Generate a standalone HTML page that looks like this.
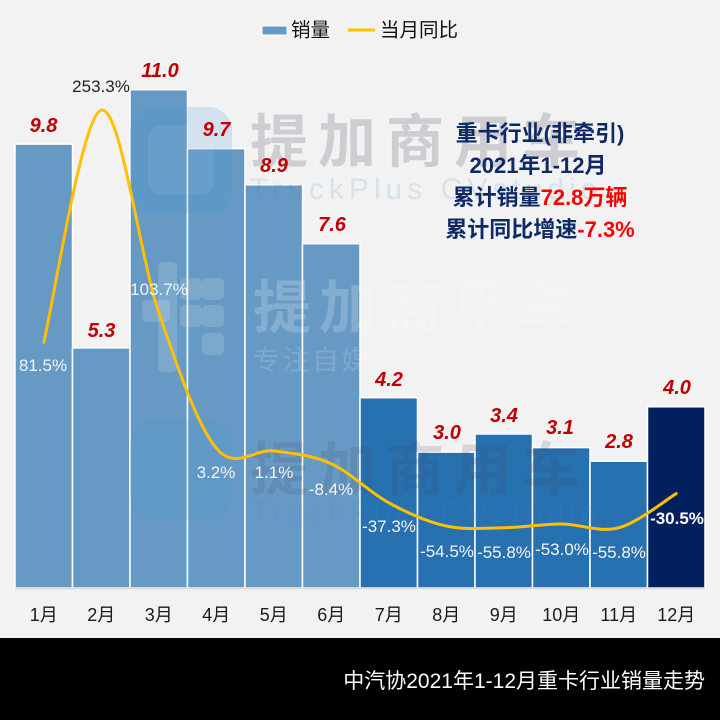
<!DOCTYPE html>
<html><head><meta charset="utf-8"><style>
html,body{margin:0;padding:0;background:#f2f2f2;}
svg{display:block;}
text{font-family:"Liberation Sans","Noto Sans CJK SC",sans-serif;}
</style></head><body>
<svg width="720" height="720" viewBox="0 0 720 720" xmlns="http://www.w3.org/2000/svg">
<rect x="0" y="0" width="720" height="720" fill="#f2f2f2"/>

<!-- legend -->
<rect x="262" y="26" width="25" height="9" fill="#6699c4" stroke="#fff" stroke-width="1"/>
<text x="291" y="36.5" font-size="19.5" fill="#111">销量</text>
<line x1="348" y1="30" x2="375" y2="30" stroke="#FFC000" stroke-width="3"/>
<text x="380" y="36.5" font-size="19.5" fill="#111">当月同比</text>

<!-- bars -->
<g stroke="#ffffff" stroke-width="1.5">
<rect x="15" y="144.1" width="57.5" height="443.9" fill="#6699c4"/>
<rect x="72.5" y="347.9" width="57.5" height="240.1" fill="#6699c4"/>
<rect x="130" y="89.7" width="57.5" height="498.3" fill="#6699c4"/>
<rect x="187.5" y="148.6" width="57.5" height="439.4" fill="#6699c4"/>
<rect x="245" y="184.8" width="57.5" height="403.2" fill="#6699c4"/>
<rect x="302.5" y="243.7" width="57.5" height="344.3" fill="#6699c4"/>
<rect x="360" y="397.7" width="57.5" height="190.3" fill="#2771b0"/>
<rect x="417.5" y="452.1" width="57.5" height="135.9" fill="#2771b0"/>
<rect x="475" y="434" width="57.5" height="154" fill="#2771b0"/>
<rect x="532.5" y="447.6" width="57.5" height="140.4" fill="#2771b0"/>
<rect x="590" y="461.2" width="57.5" height="126.8" fill="#2771b0"/>
<rect x="647.5" y="406.8" width="57.5" height="181.2" fill="#02205e"/>
</g>
<line x1="15" y1="588.5" x2="705" y2="588.5" stroke="#d9d9d9" stroke-width="1.5"/>

<!-- watermarks -->
<g>
  <!-- top logo -->
  <rect x="130" y="107" width="102" height="106" rx="24" fill="rgba(60,150,215,0.18)"/>
  <rect x="148" y="125" width="66" height="70" rx="14" fill="rgba(255,255,255,0.06)"/>
  <text x="250" y="162" font-size="58" font-weight="bold" fill="rgba(110,110,130,0.28)" letter-spacing="10">提加商用车</text>
  <text x="250" y="199" font-size="30" fill="rgba(60,150,215,0.16)" letter-spacing="5">TruckPlus CVstudio</text>

  <!-- middle logo -->
  <rect x="158" y="262" width="19" height="110" rx="5" fill="rgba(255,255,255,0.15)"/>
  <rect x="142" y="300" width="28" height="22" rx="5" fill="rgba(255,255,255,0.15)"/>
  <rect x="180" y="278" width="22" height="22" rx="5" fill="rgba(255,255,255,0.15)"/>
  <rect x="180" y="305" width="22" height="22" rx="5" fill="rgba(255,255,255,0.15)"/>
  <rect x="202" y="278" width="22" height="22" rx="5" fill="rgba(255,255,255,0.15)"/>
  <rect x="202" y="305" width="22" height="22" rx="5" fill="rgba(255,255,255,0.15)"/>
  <rect x="202" y="333" width="22" height="22" rx="5" fill="rgba(255,255,255,0.15)"/>
  <text x="253" y="328" font-size="58" font-weight="bold" fill="rgba(255,255,255,0.2)" letter-spacing="8">提加商用车</text>
  <text x="253" y="370" font-size="27" fill="rgba(255,255,255,0.16)" letter-spacing="2.5">专注自媒体·专注内容传播</text>

  <!-- bottom logo -->
  <rect x="130" y="420" width="102" height="100" rx="24" fill="rgba(60,150,215,0.12)"/>
  <text x="250" y="490" font-size="58" font-weight="bold" fill="rgba(70,70,95,0.16)" letter-spacing="10">提加商用车</text>
  <text x="250" y="522" font-size="30" fill="rgba(60,150,215,0.12)" letter-spacing="5">TruckPlus CVstudio</text>
</g>

<!-- yoy line -->
<path d="M43.75,342.3 C53.33,303.6 82.08,115.2 101.25,110.2 C120.42,105.2 139.58,255.98 158.75,312.3 C177.92,368.6 197.08,425.0 216.25,448.1 C235.42,471.2 254.58,448.3 273.75,450.9 C292.92,453.5 312.08,455.05 331.25,463.7 C350.42,472.35 369.58,492.42 388.75,502.8 C407.92,513.18 427.08,521.83 446.25,526.0 C465.42,530.17 484.58,528.13 503.75,527.8 C522.92,527.47 542.08,524.0 561.25,524.0 C580.42,524.0 599.58,532.87 618.75,527.8 C637.92,522.73 666.67,499.3 676.25,493.6" fill="none" stroke="#FFC000" stroke-width="3" stroke-linecap="round" stroke-linejoin="round"/>

<!-- value labels -->
<g font-size="20" font-weight="bold" font-style="italic" fill="#c00000" text-anchor="middle">
<text x="43.5" y="132">9.8</text>
<text x="101.5" y="337">5.3</text>
<text x="160" y="77">11.0</text>
<text x="216.5" y="136">9.7</text>
<text x="274" y="172">8.9</text>
<text x="332" y="231">7.6</text>
<text x="389" y="386">4.2</text>
<text x="447" y="439">3.0</text>
<text x="504" y="422">3.4</text>
<text x="560" y="434">3.1</text>
<text x="619" y="448">2.8</text>
<text x="677" y="394">4.0</text>
</g>

<!-- yoy labels -->
<g font-size="17" fill="#f4f4f4" text-anchor="middle">
<text x="43" y="371">81.5%</text>
<text x="101" y="92" fill="#222">253.3%</text>
<text x="159" y="295">103.7%</text>
<text x="216" y="478">3.2%</text>
<text x="274" y="478">1.1%</text>
<text x="331" y="495">-8.4%</text>
<text x="389" y="532">-37.3%</text>
<text x="447" y="557">-54.5%</text>
<text x="504" y="558">-55.8%</text>
<text x="562" y="555">-53.0%</text>
<text x="619" y="558">-55.8%</text>
<text x="677" y="524" font-weight="bold" fill="#ffffff">-30.5%</text>
</g>

<!-- x labels -->
<g font-size="18" fill="#1a1a1a" text-anchor="middle">
<text x="43.75" y="621">1月</text>
<text x="101.25" y="621">2月</text>
<text x="158.75" y="621">3月</text>
<text x="216.25" y="621">4月</text>
<text x="273.75" y="621">5月</text>
<text x="331.25" y="621">6月</text>
<text x="388.75" y="621">7月</text>
<text x="446.25" y="621">8月</text>
<text x="503.75" y="621">9月</text>
<text x="561.25" y="621">10月</text>
<text x="618.75" y="621">11月</text>
<text x="676.25" y="621">12月</text>
</g>

<!-- annotation -->
<g font-size="22" font-weight="bold" fill="#0e2a66" text-anchor="middle">
<text x="540" y="141">重卡行业(非牵引)</text>
<text x="538" y="173">2021年1-12月</text>
<text x="540" y="205">累计销量<tspan fill="#ff0000">72.8万辆</tspan></text>
<text x="540" y="237">累计同比增速<tspan fill="#ff0000">-7.3%</tspan></text>
</g>

<!-- bottom banner -->
<rect x="0" y="638" width="720" height="82" fill="#000"/>
<text x="705" y="688" font-size="21" fill="#ffffff" text-anchor="end">中汽协2021年1-12月重卡行业销量走势</text>
</svg>
</body></html>
